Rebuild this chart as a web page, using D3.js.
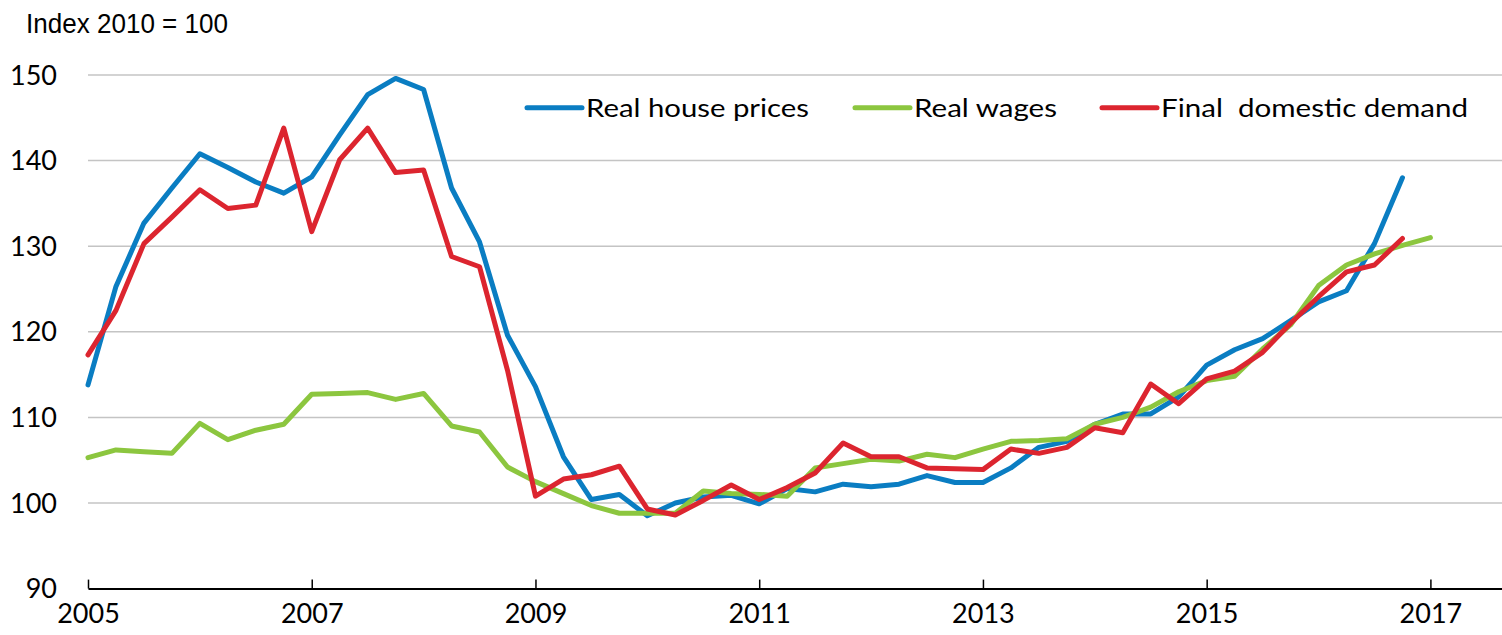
<!DOCTYPE html>
<html>
<head>
<meta charset="utf-8">
<script src="https://cdn.jsdelivr.net/npm/d3@7"></script>
<style>
  html, body { margin: 0; padding: 0; background: #fff; }
  svg { display: block; }
</style>
</head>
<body>
<div id="chart"></div>
<script>
// Quarterly data, starting 2005 Q1
const startYear = 2005;

const housePrices = [
    113.8, 125.3, 132.7, 136.8, 140.8, 139.2, 137.5, 136.2,
    138.1, 143.0, 147.7, 149.6, 148.3, 136.8, 130.5, 119.6,
    113.6, 105.4, 100.4, 101.0, 98.5, 100.0, 100.7, 100.9,
    99.9, 101.7, 101.3, 102.2, 101.9, 102.2, 103.2, 102.4,
    102.4, 104.1, 106.5, 107.2, 109.2, 110.4, 110.4, 112.4,
    116.1, 117.9, 119.2, 121.3, 123.5, 124.8, 130.3, 138.0
];

const realWages = [
    105.3, 106.2, 106.0, 105.8, 109.3, 107.4, 108.5, 109.2,
    112.7, 112.8, 112.9, 112.1, 112.8, 109.0, 108.3, 104.2,
    102.5, 101.1, 99.7, 98.8, 98.8, 98.8, 101.4, 101.1,
    101.0, 100.8, 104.1, 104.6, 105.1, 104.9, 105.7, 105.3,
    106.3, 107.2, 107.3, 107.5, 109.2, 110.0, 111.2, 113.0,
    114.3, 114.8, 118.0, 120.8, 125.4, 127.8, 129.1, 130.1,
    131.0
];

const domesticDemand = [
    117.3, 122.5, 130.3, 133.4, 136.6, 134.4, 134.8, 143.8,
    131.7, 140.1, 143.8, 138.6, 138.9, 128.8, 127.6, 115.5,
    100.8, 102.8, 103.3, 104.3, 99.3, 98.6, 100.3, 102.1,
    100.4, 101.8, 103.5, 107.0, 105.4, 105.4, 104.1, 104.0,
    103.9, 106.3, 105.8, 106.5, 108.8, 108.2, 113.9, 111.6,
    114.5, 115.4, 117.6, 121.0, 124.1, 127.0, 127.8, 130.9
];

const seriesNames = ["Real house prices", "Real wages", "Final  domestic demand"];
const seriesColors = ["#0a7dc2", "#8cc63f", "#dc252f"];
const xTicks = [2005, 2007, 2009, 2011, 2013, 2015, 2017];
const yTicks = [90, 100, 110, 120, 130, 140, 150];
const yLabel = "Index 2010 = 100";

const width = 1502;
const height = 635;

const svg = d3.select("#chart")
    .append("svg")
    .attr("width", width)
    .attr("height", height);

const x = d3.scaleLinear()
    .domain([2005, 2017.64])
    .range([88, 1502]);

const y = d3.scaleLinear()
    .domain([90, 150])
    .range([588.6, 75]);

// Gridlines
svg.append("g")
    .selectAll("line")
    .data(yTicks.filter(d => d > 90))
    .join("line")
    .attr("x1", x.range()[0])
    .attr("x2", x.range()[1])
    .attr("y1", d => y(d))
    .attr("y2", d => y(d))
    .attr("stroke", "#c4c4c4")
    .attr("stroke-width", 1.5);

// Y axis labels
const yAxis = d3.axisLeft(y)
    .tickValues(yTicks)
    .tickSize(0)
    .tickPadding(0);

svg.append("g")
    .attr("transform", "translate(57,0)")
    .call(yAxis)
    .call(g => g.select(".domain").remove())
    .selectAll("text")
    .attr("font-family", "Lato, 'Open Sans', sans-serif")
    .attr("font-size", "27px")
    .attr("fill", "#000")
    .attr("dy", "0.34em");

// X axis (ticks pointing upward)
const xAxis = d3.axisBottom(x)
    .tickValues(xTicks)
    .tickFormat(d3.format("d"))
    .tickSizeInner(-9)
    .tickSizeOuter(0)
    .tickPadding(21);

svg.append("g")
    .attr("transform", `translate(0,${y(90)})`)
    .call(xAxis)
    .call(g => g.select(".domain").attr("stroke", "#000").attr("stroke-width", 2))
    .call(g => g.selectAll(".tick line").attr("stroke", "#000").attr("stroke-width", 1.5))
    .selectAll("text")
    .attr("font-family", "Lato, 'Open Sans', sans-serif")
    .attr("font-size", "27px")
    .attr("fill", "#000")
    .attr("dy", "0.5em");

// Y axis title (narrow face in the original)
svg.append("text")
    .attr("x", 26)
    .attr("y", 33)
    .attr("font-family", "'Liberation Sans Narrow', 'Arial Narrow', 'Liberation Sans', sans-serif")
    .attr("font-size", "28px")
    .attr("fill", "#000")
    .attr("textLength", 202)
    .attr("lengthAdjust", "spacingAndGlyphs")
    .text(yLabel);

// Lines
const seriesData = [housePrices, realWages, domesticDemand];

const line = d3.line()
    .x((d, i) => x(startYear + i / 4))
    .y(d => y(d));

svg.append("g")
    .selectAll("path")
    .data(seriesData)
    .join("path")
    .attr("d", d => line(d))
    .attr("fill", "none")
    .attr("stroke", (d, i) => seriesColors[i])
    .attr("stroke-width", 5)
    .attr("stroke-linejoin", "round")
    .attr("stroke-linecap", "round");

// Legend
const legendX = [527, 855, 1102];
const legendTextWidth = [223, 143, 307];
const legendY = 107.7;

const legend = svg.append("g")
    .selectAll("g")
    .data(seriesNames)
    .join("g")
    .attr("transform", (d, i) => `translate(${legendX[i]},${legendY})`);

legend.append("line")
    .attr("x1", 0)
    .attr("x2", 55)
    .attr("stroke", (d, i) => seriesColors[i])
    .attr("stroke-width", 5)
    .attr("stroke-linecap", "round");

legend.append("text")
    .attr("x", 59)
    .attr("dy", "0.36em")
    .attr("font-family", "Lato, 'Open Sans', sans-serif")
    .attr("font-size", "25px")
    .attr("fill", "#000")
    .attr("textLength", (d, i) => legendTextWidth[i])
    .attr("lengthAdjust", "spacingAndGlyphs")
    .style("white-space", "pre")
    .text(d => d);
</script>
</body>
</html>
